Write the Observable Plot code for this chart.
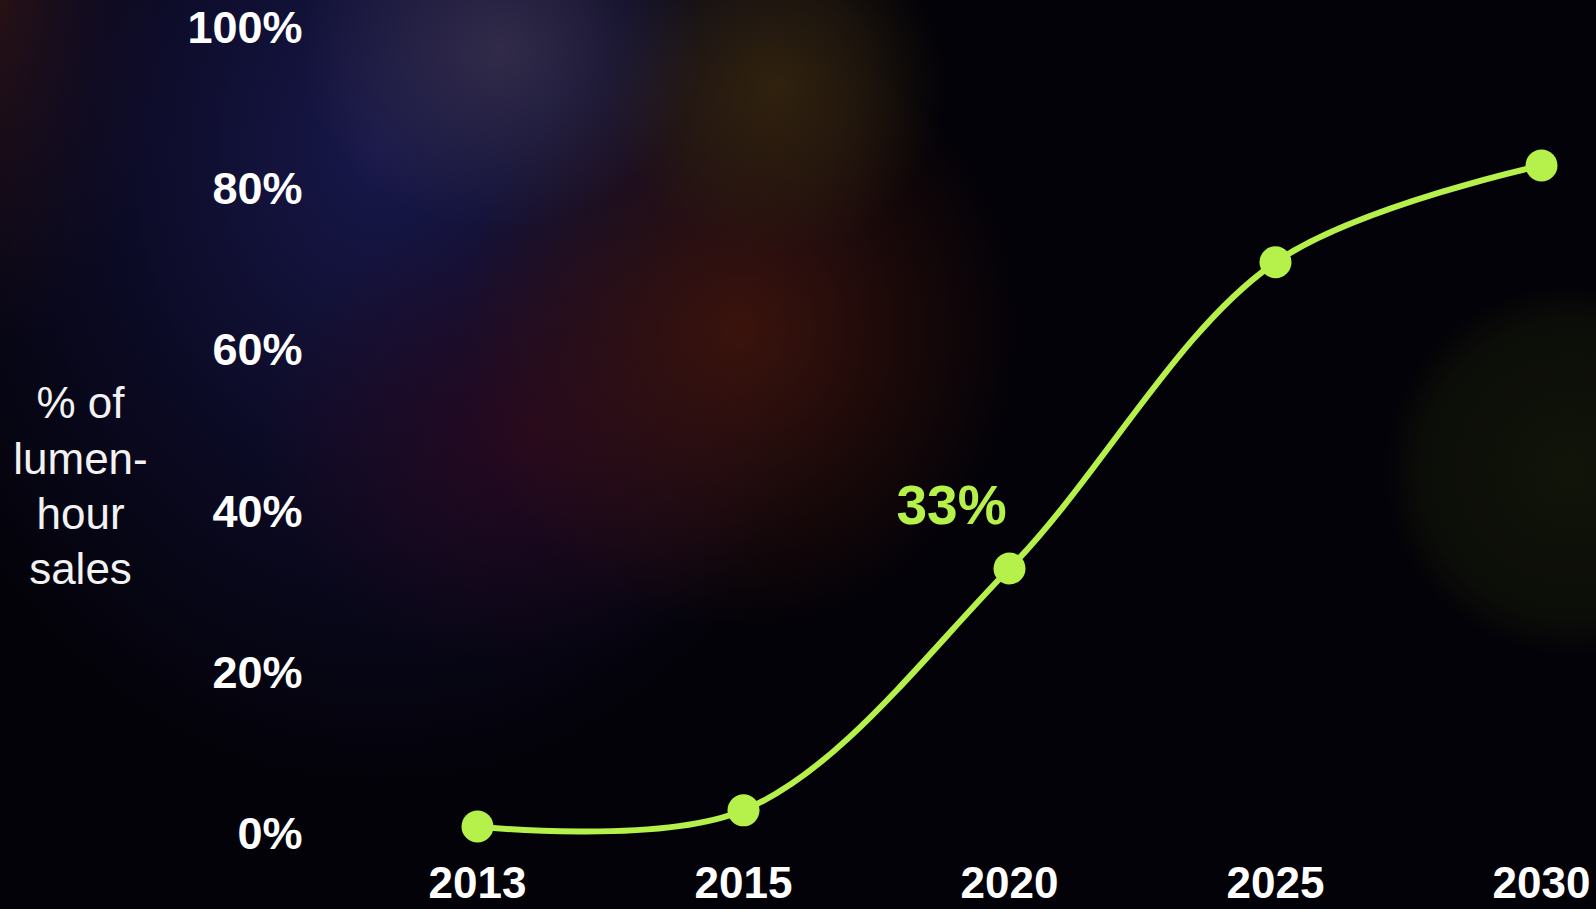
<!DOCTYPE html>
<html><head><meta charset="utf-8">
<script src="https://cdn.jsdelivr.net/npm/d3@7"></script>
<script src="https://cdn.jsdelivr.net/npm/@observablehq/plot@0.6"></script>
<style>
html,body{margin:0;padding:0;width:1596px;height:909px;overflow:hidden;background:#000;}
#bg{position:absolute;left:0;top:0;width:1596px;height:909px;background:
 radial-gradient(ellipse 200px 180px at 500px 50px, rgba(58,50,78,0.8), rgba(0,0,0,0) 100%),
 radial-gradient(circle at 775px 85px, rgba(54,38,12,0.85) 0, rgba(48,34,12,0.55) 90px, rgba(0,0,0,0) 170px),
 radial-gradient(ellipse 280px 300px at 740px 330px, rgba(64,20,10,0.9), rgba(0,0,0,0) 100%),
 radial-gradient(ellipse 260px 230px at 520px 440px, rgba(44,8,30,0.8), rgba(0,0,0,0) 100%),
 radial-gradient(ellipse 520px 650px at 380px 150px, rgba(26,26,82,0.9), rgba(14,13,46,0.7) 55%, rgba(0,0,0,0) 100%),
 radial-gradient(circle at 1570px 470px, rgba(20,25,9,0.8) 0, rgba(18,22,8,0.55) 150px, rgba(0,0,0,0) 185px),
 radial-gradient(ellipse 170px 340px at 0px 0px, rgba(62,22,6,0.85), rgba(0,0,0,0) 100%),
 #030208;}
#chart{position:absolute;left:0;top:0;}
</style></head>
<body><div id="bg"></div><div id="chart"></div>
<script>
const years = ["2013", "2015", "2020", "2025", "2030"];
const shares = [1, 3, 33, 71, 83];
const yTicks = [0, 20, 40, 60, 80, 100];
const calloutYear = "2020";
const calloutLabel = "33%";
const yLabelLines = ["% of", "lumen-", "hour", "sales"];

const data = years.map((y, i) => ({year: y, share: shares[i]}));
const green = "#b6f04a";

const chart = Plot.plot({
  width: 1596, height: 909,
  marginLeft: 310, marginRight: 54, marginTop: 28, marginBottom: 75,
  style: {background: "transparent", color: "#fff", fontFamily: "'Liberation Sans', Arial, sans-serif", overflow: "visible"},
  x: {type: "point", domain: years, padding: 0, insetLeft: 165, label: null},
  y: {domain: [0, 100], label: null},
  marks: [
    Plot.axisY(yTicks, {tickSize: 0, tickPadding: 8, tickFormat: d => d + "%", fontSize: 45, fontWeight: "bold", fill: "#fff", label: null}),
    Plot.axisX(years, {tickSize: 0, tickPadding: 32, fontSize: 44, fontWeight: "bold", fill: "#fff", label: null}),
    Plot.line(data, {x: "year", y: "share", curve: "catmull-rom", stroke: green, strokeWidth: 6}),
    Plot.dot(data, {x: "year", y: "share", r: 16, fill: green, stroke: "none"}),
    Plot.text(data.filter(d => d.year === calloutYear), {x: "year", y: "share", text: () => calloutLabel, dx: -58, dy: -62, fontSize: 55, fontWeight: "bold", fill: green}),
    Plot.text([yLabelLines.join("\n")], {text: d => d, frameAnchor: "left", dx: -230, dy: 52, textAnchor: "middle", fontSize: 44, lineHeight: 1.26, fill: "#f2f2f2"})
  ]
});
document.getElementById("chart").appendChild(chart);
</script>
</body></html>
